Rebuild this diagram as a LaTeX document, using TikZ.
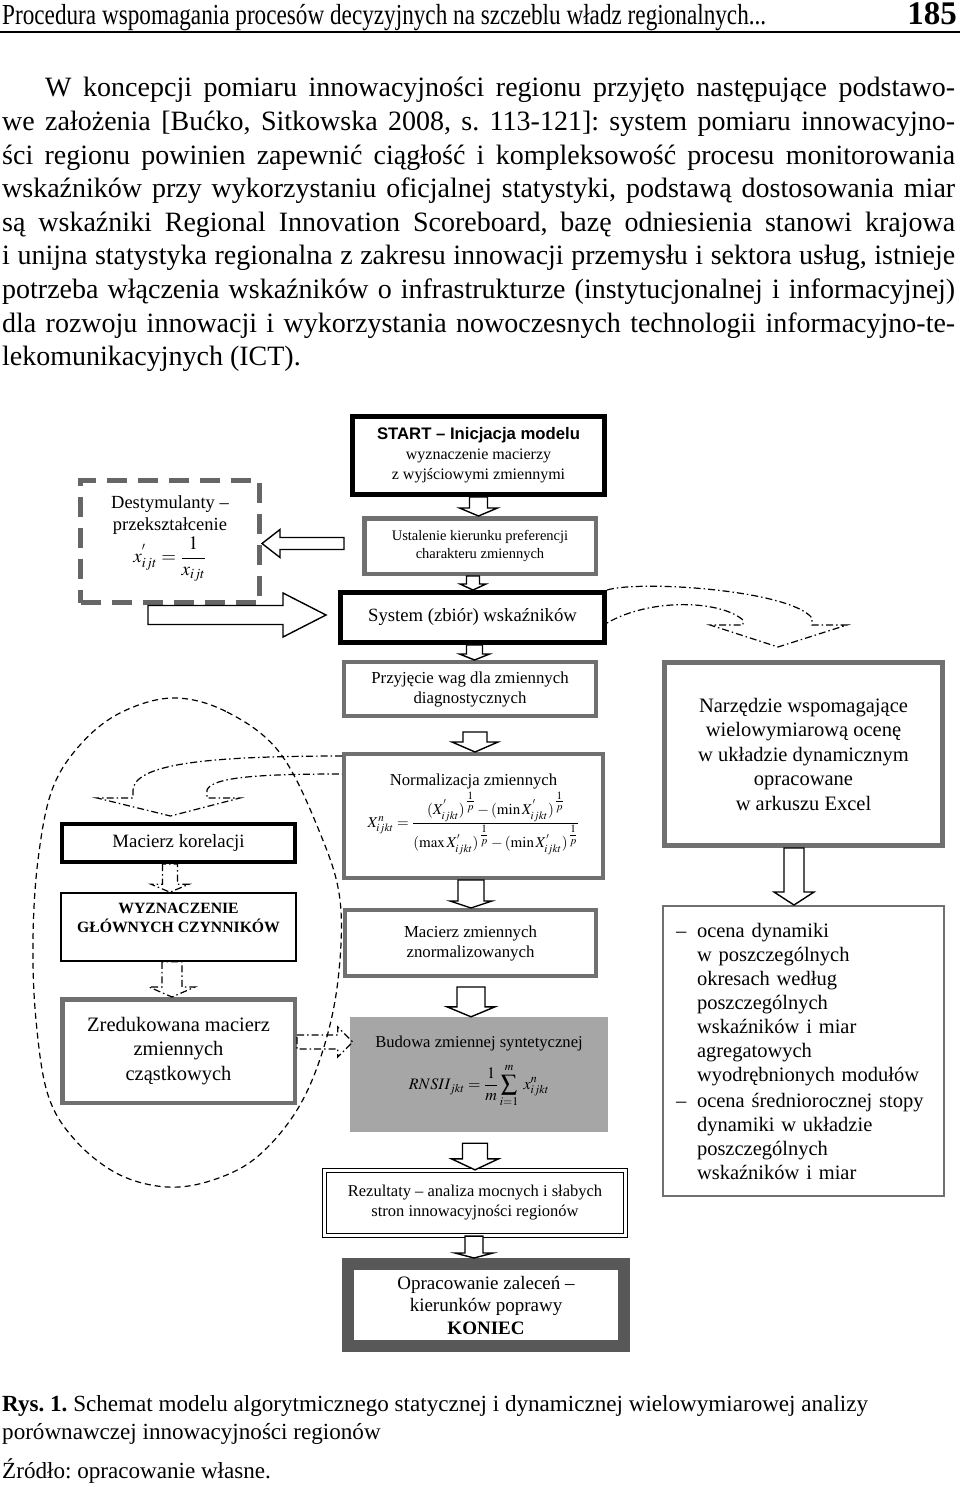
\documentclass[tikz,border=0pt]{standalone}
\usepackage{amsmath}
\usepackage{mathptmx}
\usepackage{fontspec}
\setmainfont{Liberation Serif}
\setsansfont{Liberation Sans}
\newfontfamily\headfont[FakeStretch=0.8]{Liberation Serif}
\usetikzlibrary{calc}
\usetikzlibrary{positioning}
\definecolor{boxgrey}{HTML}{707070}
\definecolor{fillgrey}{HTML}{A6A6A6}
\definecolor{darkgrey}{HTML}{585858}
\definecolor{dashgrey}{HTML}{666666}
\frenchspacing
\newcommand{\fsz}[2]{\fontsize{#1}{#2}\selectfont}
\newcommand{\invp}{{\,\genfrac{}{}{}{1}{\scriptstyle 1}{\scriptstyle p}}}
% outlined block arrows between two points
\newcommand{\downblock}[6][]{%
  \draw[blockarr,#1] let \p1=(#2), \p2=(#3) in
    (\x1-#4,\y1) -- (\x1-#4,\y2+#6) -- (\x1-#5,\y2+#6) -- (\x1,\y2)
    -- (\x1+#5,\y2+#6) -- (\x1+#4,\y2+#6) -- (\x1+#4,\y1) -- cycle;}
\newcommand{\leftblock}[6][]{%
  \draw[blockarr,#1] let \p1=(#2), \p2=(#3) in
    (\x1,\y1+#4) -- (\x2+#6,\y1+#4) -- (\x2+#6,\y1+#5) -- (\x2,\y1)
    -- (\x2+#6,\y1-#5) -- (\x2+#6,\y1-#4) -- (\x1,\y1-#4) -- cycle;}
\newcommand{\rightblock}[6][]{%
  \draw[blockarr,#1] let \p1=(#2), \p2=(#3) in
    (\x1,\y1+#4) -- (\x2-#6,\y1+#4) -- (\x2-#6,\y1+#5) -- (\x2,\y1)
    -- (\x2-#6,\y1-#5) -- (\x2-#6,\y1-#4) -- (\x1,\y1-#4) -- cycle;}
\tikzset{
  box/.style={align=center, inner sep=0pt, fill=white},
  blackbox/.style={box, draw=black, line width=5pt},
  greybox/.style={box, draw=boxgrey, line width=4pt},
  thinbox/.style={box, draw=black, line width=1.6pt},
  blockarr/.style={draw=black, line width=1.4pt, fill=white, line join=miter},
  dashdot/.style={line width=1.2pt, dash pattern=on 7pt off 3pt on 1.5pt off 3pt},
  dotarr/.style={blockarr, dashdot, fill=none},
  bodyline/.style={anchor=base west, inner sep=0pt, font=\fsz{28}{33}},
  capline/.style={anchor=base west, inner sep=0pt, font=\fsz{23.1}{28}}
}

\begin{document}
\begin{tikzpicture}[x=1pt,y=-1pt]
\useasboundingbox (0,0) rectangle (960,1487);

% page head
\node[capline, font=\headfont\fsz{29}{30}] (head) at (2,25) {Procedura wspomagania procesów decyzyjnych na szczeblu władz regionalnych...};
\node[anchor=base east, inner sep=0pt, font=\bfseries\fsz{33}{33}] (page) at (957,25) {185};
\draw[line width=1.8pt] (0,32) -- (960,32);

% paragraph
\foreach \txt [count=\i] in {
  {\hspace*{43pt}W koncepcji pomiaru innowacyjności regionu przyjęto następujące podstawo-},
  {we założenia [Bućko, Sitkowska 2008, s. 113-121]: system pomiaru innowacyjno-},
  {ści regionu powinien zapewnić ciągłość i kompleksowość procesu monitorowania},
  {wskaźników przy wykorzystaniu oficjalnej statystyki, podstawą dostosowania miar},
  {są wskaźniki Regional Innovation Scoreboard, bazę odniesienia stanowi krajowa},
  {i unijna statystyka regionalna z zakresu innowacji przemysłu i sektora usług, istnieje},
  {potrzeba włączenia wskaźników o infrastrukturze (instytucjonalnej i informacyjnej)},
  {dla rozwoju innowacji i wykorzystania nowoczesnych technologii informacyjno-te-}}
  \node[bodyline] (line\i) at (2,{97+33.6*(\i-1)}) {\makebox[953pt][s]{\txt}};
\node[bodyline] (line9) at (2,{97+33.6*8}) {lekomunikacyjnych (ICT).};

% dashed loop round the left column
\draw[line width=1.2pt, dash pattern=on 6pt off 4pt] plot[smooth cycle, tension=0.6] coordinates {
  (173,698) (227,712) (280,753) (320,833) (340,900) (338,980) (323,1050) (297,1110)
  (257,1157) (213,1180) (167,1187) (118,1174) (75,1140) (48,1095) (36,1020) (33,940)
  (38,860) (52,790) (80,745) (120,713)};

% main column
\node[blackbox, minimum width=252pt, minimum height=78pt, font=\fsz{16}{20}] (start) at (478.5,455.5)
  {{\sffamily\bfseries\fsz{16.7}{20}START – Inicjacja modelu}\\wyznaczenie macierzy\\z wyjściowymi zmiennymi};
\node[greybox, line width=4.5pt, minimum width=231.5pt, minimum height=55.5pt, font=\fsz{14.5}{18}] (ustal) at (480,546)
  {Ustalenie kierunku preferencji\\charakteru zmiennych};
\node[box, draw=dashgrey, line width=5pt, dash pattern=on 20pt off 11pt, minimum width=179pt, minimum height=122pt,
  font=\fsz{18.5}{21.5}] (dest) at (170,541.5)
  {Destymulanty –\\przekształcenie\\[2pt]{\fsz{19}{20}$x^{'}_{ijt}=\dfrac{1}{x_{ijt}}$}\\[3pt]};
\node[blackbox, minimum width=264pt, minimum height=50pt, font=\fsz{18.7}{22}] (system) at (472.5,617.5)
  {System (zbiór) wskaźników};
\node[greybox, minimum width=252pt, minimum height=54pt, font=\fsz{16.8}{20}] (przyj) at (470,689)
  {Przyjęcie wag dla zmiennych\\diagnostycznych};
\node[greybox, minimum width=259pt, minimum height=124pt, font=\fsz{16.7}{20}] (norm) at (473.5,816)
  {Normalizacja zmiennych\\[2pt]{\fsz{15}{18}$X^{n}_{ijkt}=\dfrac{(X^{'}_{ijkt})^{\invp}-(\min X^{'}_{ijkt})^{\invp}}
   {\rule{0pt}{19pt}(\max X^{'}_{ijkt})^{\invp}-(\min X^{'}_{ijkt})^{\invp}}$}\\[2pt]};
\node[greybox, minimum width=251pt, minimum height=66pt, font=\fsz{16.8}{20}] (macz) at (470.5,943)
  {Macierz zmiennych\\znormalizowanych};
\node[box, fill=fillgrey, minimum width=258pt, minimum height=115pt, font=\fsz{16.6}{20}] (budowa) at (479,1074.5)
  {Budowa zmiennej syntetycznej\\[12pt]{\fsz{16}{18}$\displaystyle RNSII_{jkt}=\frac{1}{m}\sum_{i=1}^{\raisebox{2pt}{$\scriptstyle m$}}\;x^{n}_{ijkt}$}\\[4pt]};
\node[box, draw=black, line width=1.3pt, double=white, double distance=2.5pt, minimum width=301pt, minimum height=65pt,
  font=\fsz{16.5}{20}] (rezult) at (475,1203)
  {Rezultaty – analiza mocnych i słabych\\stron innowacyjności regionów};
\node[box, draw=darkgrey, line width=12pt, minimum width=276pt, minimum height=82pt, font=\fsz{19}{22.5}] (oprac) at (486,1305)
  {Opracowanie zaleceń –\\kierunków poprawy\\\textbf{KONIEC}};

% right column
\node[greybox, line width=5pt, minimum width=278pt, minimum height=183pt, font=\fsz{20.5}{24.5}] (narz) at (803.5,754)
  {Narzędzie wspomagające\\wielowymiarową ocenę\\w układzie dynamicznym\\opracowane\\w arkuszu Excel};
\node[box, draw=boxgrey, line width=2pt, minimum width=281pt, minimum height=290pt, text width=255pt, align=left,
  font=\fsz{20.5}{24}] (ocena) at (803.5,1051)
  {\makebox[21pt][l]{–}ocena dynamiki\\\hspace*{21pt}w poszczególnych\\\hspace*{21pt}okresach według\\
   \hspace*{21pt}poszczególnych\\\hspace*{21pt}wskaźników i miar\\\hspace*{21pt}agregatowych\\
   \hspace*{21pt}wyodrębnionych modułów\\[2pt]\makebox[21pt][l]{–}ocena średniorocznej stopy\\
   \hspace*{21pt}dynamiki w układzie\\\hspace*{21pt}poszczególnych\\\hspace*{21pt}wskaźników i miar};

% left column
\node[blackbox, line width=4pt, minimum width=233pt, minimum height=38pt, font=\fsz{18.8}{22}] (makor) at (178.5,843)
  {Macierz korelacji};
\node[thinbox, minimum width=235pt, minimum height=68pt, font=\bfseries\fsz{15.7}{18.5}] (wyzn) at (178.5,927)
  {WYZNACZENIE\\GŁÓWNYCH CZYNNIKÓW\\\mbox{}};
\node[greybox, line width=4.5pt, minimum width=232.5pt, minimum height=103.5pt, font=\fsz{20.5}{24.3}] (zred) at (178.5,1051)
  {Zredukowana macierz\\zmiennych\\cząstkowych};

% block arrows
\downblock{start.south}{ustal.north}{9pt}{19pt}{8pt}
\downblock{$(ustal.south)+(-7,0)$}{system.north}{6.5pt}{13pt}{6pt}
\downblock{$(system.south)+(2,0)$}{przyj.north}{8pt}{15pt}{6pt}
\downblock{$(przyj.south)+(5,14)$}{norm.north}{12pt}{23pt}{10pt}
\downblock{$(norm.south)+(-2.5,0)$}{macz.north}{13pt}{21pt}{7pt}
\downblock{$(macz.south)+(0.5,9)$}{budowa.north}{14pt}{24pt}{10pt}
\downblock{$(budowa.south)+(-4,11)$}{rezult.north}{12.5pt}{23.5pt}{11pt}
\downblock{$(rezult.south)+(-1,0)$}{oprac.north}{9pt}{19pt}{5pt}
\downblock{$(narz.south)+(-9.5,0)$}{ocena.north}{10pt}{20pt}{13pt}
\leftblock{$(ustal.west)+(-18,-2.5)$}{dest.east}{6pt}{14pt}{18pt}
\rightblock{$(dest.south west)+(70,10)$}{$(system.west)+(-12,0)$}{9.5pt}{22pt}{43pt}

% dash-dot arrows of the left column
\downblock[dotarr]{$(makor.south)+(-8.5,0)$}{wyzn.north}{7.5pt}{19pt}{8pt}
\downblock[dotarr]{$(wyzn.south)+(-6.5,0)$}{zred.north}{10pt}{23pt}{10pt}
\rightblock[dotarr]{$(zred.east)+(0,-9)$}{$(budowa.west)+(3,0)$}{7pt}{15pt}{15pt}

% curved dash-dot arrows
\draw[dotarr] ($(norm.north west)+(0,4)$) .. controls (200,756) and (135,765) .. (133,790)
  -- (133,798) -- (97,798) -- ($(makor.north)+(-8,-6)$) -- (240,798) -- (207,798) -- (207,790)
  .. controls (212,777) and (260,774) .. ($(norm.north west)+(0,22)$);
\draw[dotarr] (system.north east) .. controls (640,580) and (790,590) .. (812,618)
  -- (812,625) -- (847,625) -- ($(narz.north)+(-25.5,-13)$) -- (710,625) -- (743,625) -- (743,620)
  .. controls (720,600) and (650,598) .. ($(system.east)+(0,5.5)$);

% caption
\node[capline] (cap1) at (2,1411) {\textbf{Rys. 1.} Schemat modelu algorytmicznego statycznej i dynamicznej wielowymiarowej analizy};
\node[capline] (cap2) at (2,1439) {porównawczej innowacyjności regionów};
\node[capline] (cap3) at (2,1478) {Źródło: opracowanie własne.};
\end{tikzpicture}
\end{document}
